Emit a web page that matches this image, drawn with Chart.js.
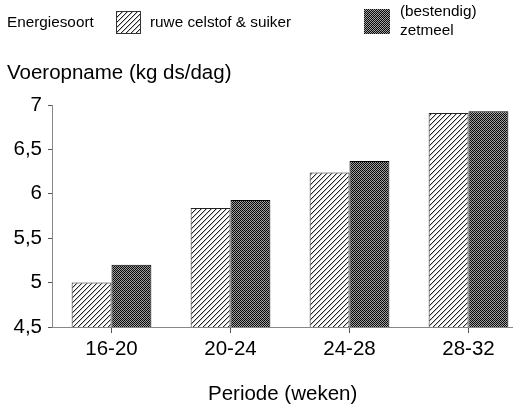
<!DOCTYPE html>
<html>
<head>
<meta charset="utf-8">
<script src="https://cdn.jsdelivr.net/npm/chart.js@4/dist/chart.umd.min.js"></script>
<style>
  html, body { margin: 0; padding: 0; background: #fff; overflow: hidden; }
  #wrap { position: relative; width: 513px; height: 410px; overflow: hidden; font-family: "Liberation Sans", Arial, Helvetica, sans-serif; color: #000; }
  #c { position: absolute; left: 0; top: 0; }
  .t { position: absolute; white-space: nowrap; }
  .sw { position: absolute; box-sizing: border-box; }
</style>
</head>
<body>
<div id="wrap">
  <canvas id="c" width="540" height="410"></canvas>
  <div class="t" id="legTitle" style="left:7px; top:14px; font-size:15.3px; line-height:16px;">Energiesoort</div>
  <div class="sw" id="sw1" style="left:116px; top:11px; width:25px; height:23px; border:1px solid #333;"></div>
  <div class="t" style="left:150px; top:14px; font-size:15.3px; line-height:16px;">ruwe celstof &amp; suiker</div>
  <div class="sw" id="sw2" style="left:364px; top:9px; width:26px; height:25px;"></div>
  <div class="t" style="left:400px; top:1px; font-size:15.3px; line-height:19px;">(bestendig)<br>zetmeel</div>
  <div class="t" id="yTitle" style="left:7px; top:62px; font-size:20.5px; line-height:20.5px;">Voeropname (kg ds/dag)</div>
  <div class="t" id="xTitle" style="left:208px; top:383px; font-size:20.5px; line-height:20.5px;">Periode (weken)</div>
</div>
<script>
// ---- data ----
const categories = ['16-20', '20-24', '24-28', '28-32'];
const ruweCelstofSuiker = [5.0, 5.84, 6.24, 6.91];
const bestendigZetmeel = [5.2, 5.93, 6.37, 6.93];
const yTickLabels = ['4,5', '5', '5,5', '6', '6,5', '7'];
const seriesNames = ['ruwe celstof & suiker', '(bestendig) zetmeel'];

// ---- patterns ----
function hatchTile() {
  const n = 5;
  const c = document.createElement('canvas');
  c.width = n; c.height = n;
  const x = c.getContext('2d');
  x.fillStyle = '#fff'; x.fillRect(0, 0, n, n);
  for (let i = 0; i < n; i++) {
    x.fillStyle = '#222'; x.fillRect(i, n - 1 - i, 1, 1);
    x.fillStyle = '#c4c4c4'; x.fillRect(i, (n - i) % n, 1, 1);
  }
  return c;
}
function stippleTile() {
  const n = 4;
  const c = document.createElement('canvas');
  c.width = n; c.height = n;
  const x = c.getContext('2d');
  const shades = [['#000','#a0a0a0','#111','#959595'],['#a4a4a4','#1a1a1a','#aaaaaa','#000'],['#0a0a0a','#929292','#000','#a2a2a2'],['#9a9a9a','#000','#9f9f9f','#151515']];
  for (let r = 0; r < n; r++) for (let k = 0; k < n; k++) { x.fillStyle = shades[r][k]; x.fillRect(k, r, 1, 1); }
  return c;
}
const hTile = hatchTile(), sTile = stippleTile();
const ctx = document.getElementById('c').getContext('2d');
const hatchPat = ctx.createPattern(hTile, 'repeat');
const stipPat = ctx.createPattern(sTile, 'repeat');
document.getElementById('sw1').style.background = 'url(' + hTile.toDataURL() + ')';
document.getElementById('sw2').style.background = 'url(' + sTile.toDataURL() + ')';

const FONT = '"Liberation Sans", Arial, Helvetica, sans-serif';

new Chart(ctx, {
  type: 'bar',
  data: {
    labels: categories,
    datasets: [
      { label: seriesNames[0], data: ruweCelstofSuiker, backgroundColor: hatchPat, borderColor: '#222', borderWidth: 1, categoryPercentage: 0.67, barPercentage: 1.0 },
      { label: seriesNames[1], data: bestendigZetmeel, backgroundColor: stipPat, borderColor: '#000', borderWidth: 1, categoryPercentage: 0.67, barPercentage: 1.0 }
    ]
  },
  options: {
    responsive: false,
    animation: false,
    devicePixelRatio: 1,
    layout: { padding: { left: 0, top: 105, right: 12, bottom: 30 } },
    plugins: { legend: { display: false }, tooltip: { enabled: false }, title: { display: false } },
    scales: {
      x: {
        offset: true,
        grid: { offset: false, drawOnChartArea: false, drawTicks: true, tickLength: 6, color: '#555', tickColor: '#555' },
        border: { display: true, color: '#888', width: 1 },
        ticks: { color: '#000', font: { family: FONT, size: 20.5 }, padding: 4, maxRotation: 0 },
        afterFit: s => { s.height = 53; }
      },
      y: {
        min: 4.5, max: 7,
        grid: { drawOnChartArea: false, drawTicks: true, tickLength: 4, color: '#555', tickColor: '#555' },
        border: { display: true, color: '#888', width: 1 },
        ticks: {
          stepSize: 0.5, color: '#000', font: { family: FONT, size: 20.5 }, padding: 6,
          callback: (v, i) => yTickLabels[i]
        },
        afterFit: s => { s.width = 52; }
      }
    }
  }
});
</script>
</body>
</html>
